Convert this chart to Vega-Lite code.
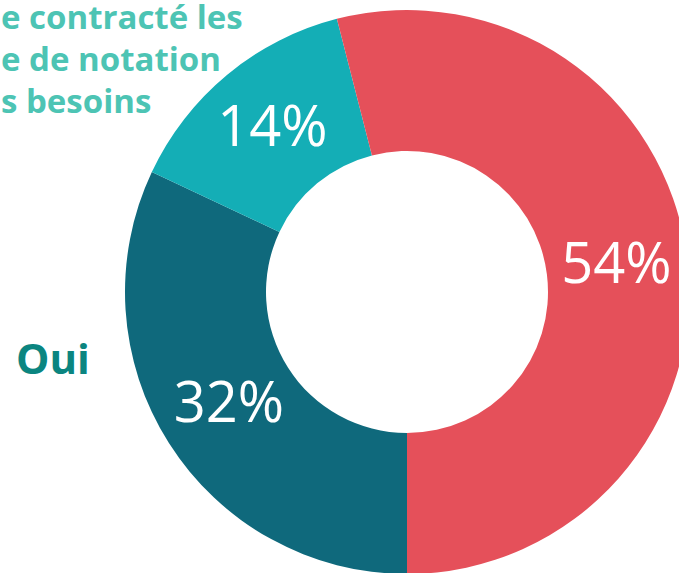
{
  "$schema": "https://vega.github.io/schema/vega-lite/v6.json",
  "width": 814,
  "height": 584,
  "autosize": "none",
  "padding": 0,
  "background": "white",
  "config": {"view": {"stroke": null}},
  "layer": [
    {
      "data": {"name": "shares", "values": [
        {"category": "Oui", "pct": 32, "rank": 1},
        {"category": "Contrat selon besoins", "pct": 14, "rank": 2},
        {"category": "Non", "pct": 54, "rank": 3}
      ]},
      "layer": [
        {
          "mark": {"type": "arc", "innerRadius": 141, "outerRadius": 282},
          "encoding": {
            "theta": {"field": "pct", "type": "quantitative", "stack": true, "scale": {"range": [3.14159265, 9.42477796]}},
            "order": {"field": "rank", "type": "quantitative"},
            "color": {"field": "category", "type": "nominal", "legend": null,
              "scale": {"domain": ["Oui", "Contrat selon besoins", "Non"], "range": ["#0F697C", "#14AEB6", "#E5505A"]}}
          }
        },
        {
          "mark": {"type": "text", "radius": 211, "font": "Open Sans", "fontSize": 56, "fontWeight": 400, "color": "white", "align": "center", "baseline": "middle"},
          "encoding": {
            "theta": {"field": "pct", "type": "quantitative", "stack": true, "scale": {"range": [3.14159265, 9.42477796]}},
            "order": {"field": "rank", "type": "quantitative"},
            "text": {"field": "label", "type": "nominal"}
          },
          "transform": [{"calculate": "datum.pct + '%'", "as": "label"}]
        }
      ]
    },
    {
      "data": {"values": [{"label": "Oui"}]},
      "mark": {"type": "text", "font": "Open Sans", "fontSize": 42, "fontWeight": 700, "color": "#0B8580", "align": "left", "baseline": "alphabetic"},
      "encoding": {
        "x": {"datum": 16, "type": "quantitative", "scale": {"domain": [0, 814], "nice": false, "zero": false}, "axis": null},
        "y": {"datum": 374, "type": "quantitative", "scale": {"domain": [0, 584], "reverse": true, "nice": false, "zero": false}, "axis": null},
        "text": {"field": "label", "type": "nominal"}
      }
    },
    {
      "data": {"values": [{"label": ["e contracté les", "e de notation", "s besoins"]}]},
      "mark": {"type": "text", "font": "Open Sans", "fontSize": 33, "fontWeight": 700, "color": "#4DC4B4", "align": "left", "baseline": "alphabetic", "lineHeight": 42},
      "encoding": {
        "x": {"datum": 1, "type": "quantitative"},
        "y": {"datum": 29, "type": "quantitative"},
        "text": {"field": "label", "type": "nominal"}
      }
    }
  ]
}
